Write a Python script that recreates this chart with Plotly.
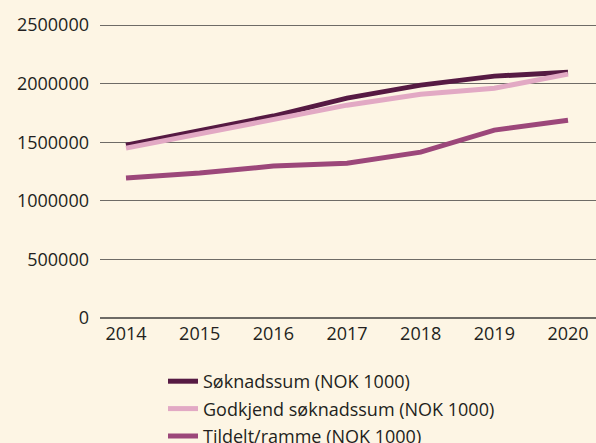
import plotly.graph_objects as go

years = [2014, 2015, 2016, 2017, 2018, 2019, 2020]
soknadssum = [1476000, 1598000, 1724000, 1877000, 1988000, 2065000, 2099000]
godkjend = [1450000, 1572000, 1692000, 1817000, 1911000, 1962000, 2082000]
tildelt = [1195000, 1237000, 1297000, 1322000, 1416000, 1604000, 1689000]

names = ["Søknadssum (NOK 1000)", "Godkjend søknadssum (NOK 1000)", "Tildelt/ramme (NOK 1000)"]
colors = ["#561a43", "#e2a9c4", "#9c477a"]

fig = go.Figure()
for i, (vals, name, col) in enumerate(zip([soknadssum, godkjend, tildelt], names, colors)):
    fig.add_trace(go.Scatter(x=years, y=vals, name=name, mode="lines", legendgroup=f"g{i}",
                             line=dict(color=col, width=5)))

bg = "#fdf5e4"
fig.update_layout(
    width=596, height=443,
    paper_bgcolor=bg, plot_bgcolor=bg,
    margin=dict(l=100, r=0, t=24, b=125),
    font=dict(family="Open Sans, Noto Sans, sans-serif", size=18, color="#231f20"),
    xaxis=dict(range=[2013.647, 2020.38], tickmode="array", tickvals=years,
               ticktext=[str(y) for y in years], showgrid=False, zeroline=False,
               showline=False, ticks="", tickfont=dict(size=18), automargin=False,
               ticklabelstandoff=3),
    yaxis=dict(range=[0, 2510000], tickvals=[0, 500000, 1000000, 1500000, 2000000, 2500000],
               ticktext=["0", "500000", "1000000", "1500000", "2000000", "2500000"],
               showgrid=True, gridcolor="#6e6b66", gridwidth=1, zeroline=True,
               zerolinecolor="#6e6b66", zerolinewidth=1.5, ticks="", ticklabelstandoff=10,
               tickfont=dict(size=18), automargin=False),
    legend=dict(x=(163 - 100) / 496, y=(443 - 363) / 443, xref="paper", yref="container",
                xanchor="left", yanchor="top", orientation="v", traceorder="grouped",
                bgcolor="rgba(0,0,0,0)", font=dict(size=18), tracegroupgap=1),
    showlegend=True,
)
fig.write_html("out.html", config={"displayModeBar": False},
               post_script="document.body.style.margin='0';")
